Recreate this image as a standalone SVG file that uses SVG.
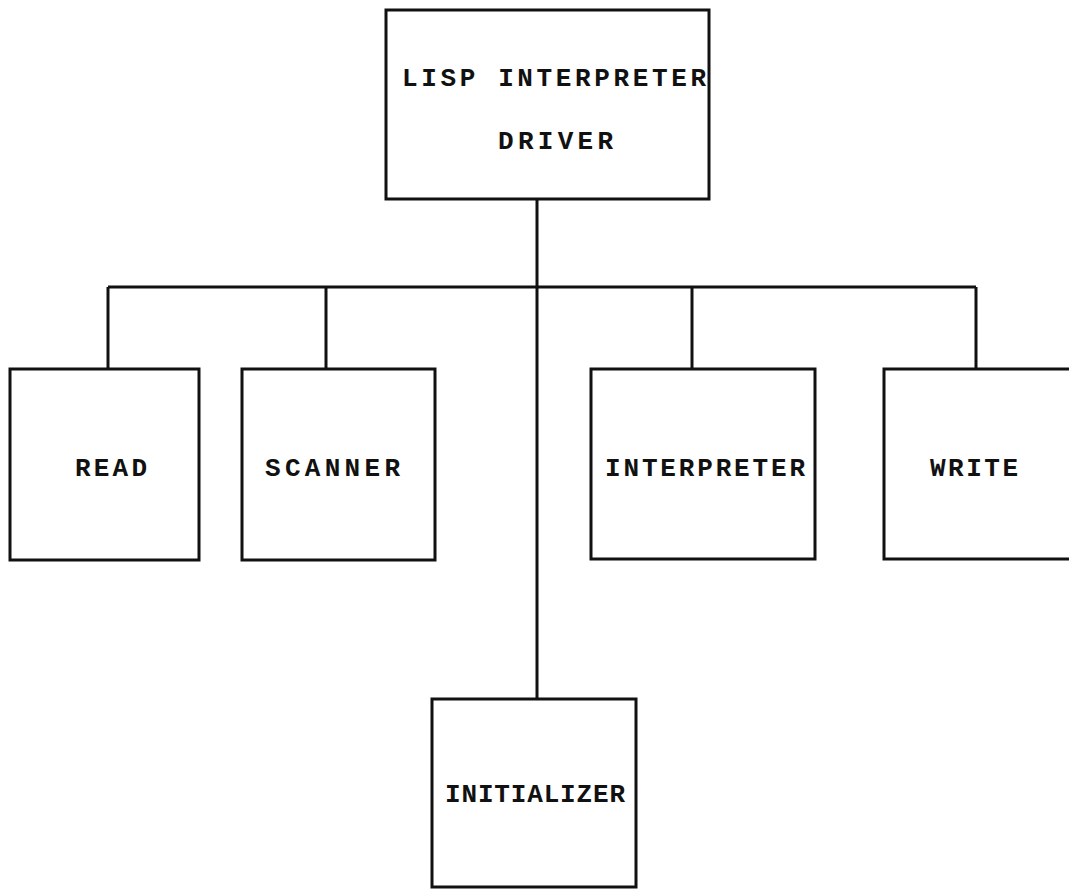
<svg xmlns="http://www.w3.org/2000/svg" width="1069" height="889" viewBox="0 0 1069 889">
<style>
.box{fill:#fff;stroke:#111;stroke-width:3}
.ln{fill:none;stroke:#111;stroke-width:3}
.t{font-family:"Liberation Mono","DejaVu Sans Mono",monospace;font-weight:bold;font-size:26px;fill:#111}
</style>
<rect width="1069" height="889" fill="#fff"/>
<g id="connectors">
<line class="ln" x1="537" y1="199" x2="537" y2="699"/>
<line class="ln" x1="108" y1="287" x2="976" y2="287"/>
<line class="ln" x1="108" y1="287" x2="108" y2="369"/>
<line class="ln" x1="326" y1="287" x2="326" y2="369"/>
<line class="ln" x1="692" y1="287" x2="692" y2="369"/>
<line class="ln" x1="976" y1="287" x2="976" y2="369"/>
</g>
<g id="driver">
<rect class="box" x="386" y="10" width="323" height="189"/>
<text class="t" x="402" y="86" textLength="304" lengthAdjust="spacing">LISP INTERPRETER</text>
<text class="t" x="498" y="149" textLength="115" lengthAdjust="spacing">DRIVER</text>
</g>
<g id="read">
<rect class="box" x="10" y="369" width="189" height="191"/>
<text class="t" x="75" y="476" textLength="72" lengthAdjust="spacing">READ</text>
</g>
<g id="scanner">
<rect class="box" x="242" y="369" width="193" height="191"/>
<text class="t" x="265" y="476" textLength="135" lengthAdjust="spacing">SCANNER</text>
</g>
<g id="interpreter">
<rect class="box" x="591" y="369" width="224" height="190"/>
<text class="t" x="605" y="476" textLength="200" lengthAdjust="spacing">INTERPRETER</text>
</g>
<g id="write">
<rect class="box" x="884" y="369" width="200" height="190"/>
<text class="t" x="930" y="476" textLength="88" lengthAdjust="spacing">WRITE</text>
</g>
<g id="initializer">
<rect class="box" x="432" y="699" width="204" height="188"/>
<text class="t" x="445" y="802" textLength="180" lengthAdjust="spacing">INITIALIZER</text>
</g>
</svg>
